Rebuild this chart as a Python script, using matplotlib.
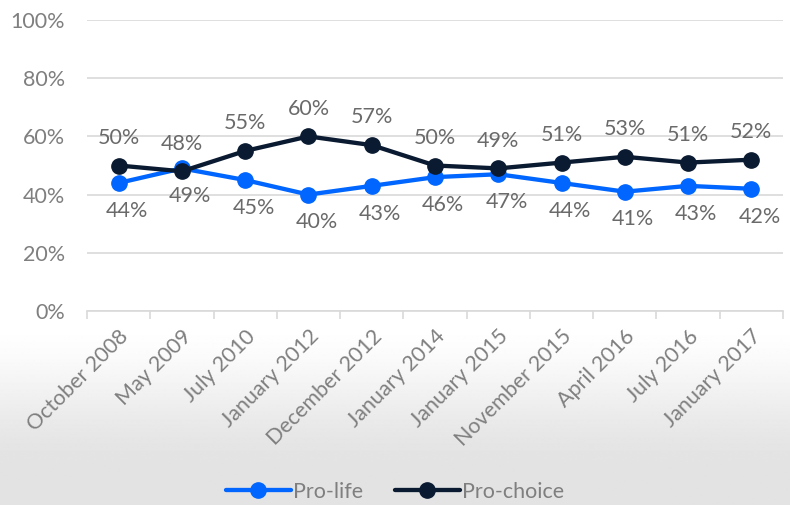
import matplotlib
matplotlib.use("Agg")
import matplotlib.pyplot as plt
import matplotlib.transforms as mtransforms
import numpy as np

categories = ["October 2008", "May 2009", "July 2010", "January 2012", "December 2012",
              "January 2014", "January 2015", "November 2015", "April 2016", "July 2016",
              "January 2017"]
pro_life = [44, 49, 45, 40, 43, 46, 47, 44, 41, 43, 42]
pro_choice = [50, 48, 55, 60, 57, 50, 49, 51, 53, 51, 52]
y_ticks = [0, 20, 40, 60, 80, 100]

plt.rcParams['font.family'] = ['Lato', 'DejaVu Sans']

W, H = 790, 505
fig = plt.figure(figsize=(W / 100, H / 100), dpi=100)

# background gradient
bg = fig.add_axes([0, 0, 1, 1], zorder=-10)
bg.set_axis_off()
rows = np.linspace(0, 1, 512)  # 0 top -> 1 bottom
start = 318 / H
end = 470 / H
t = np.clip((rows - start) / (end - start), 0, 1)
t = t * t * (3 - 2 * t)
vals = 1 - t * (1 - 0.89)
grad = np.repeat(vals[:, None], 2, axis=1)
bg.imshow(grad, cmap='gray', vmin=0, vmax=1, aspect='auto', extent=[0, 1, 0, 1],
          interpolation='bilinear')
bg.set_xlim(0, 1); bg.set_ylim(0, 1)

left, right = 87 / W, 783 / W
bottom, top = 1 - 311 / H, 1 - 20 / H
ax = fig.add_axes([left, bottom, right - left, top - bottom])
ax.patch.set_alpha(0)

n = len(categories)
x = np.arange(n)
blue = "#0066ff"
navy = "#0a1a30"

l1, = ax.plot(x, pro_life, color=blue, lw=3.1, marker='o', ms=11, label="Pro-life", zorder=3,
              solid_capstyle='round')
l2, = ax.plot(x, pro_choice, color=navy, lw=3.1, marker='o', ms=11, label="Pro-choice", zorder=4,
              solid_capstyle='round')

lab_col = "#6a6a6a"
fs = 15.5
for xi, v in zip(x, pro_choice):
    ax.annotate(f"{v}%", (xi, v), xytext=(0, 20), textcoords='offset points',
                ha='center', va='center', fontsize=fs, color=lab_col)
for xi, v in zip(x, pro_life):
    ax.annotate(f"{v}%", (xi, v), xytext=(6, -20), textcoords='offset points',
                ha='center', va='center', fontsize=fs, color=lab_col)

ax.set_xlim(-0.5, n - 0.5)
ax.set_ylim(0, 100)
ax.set_yticks(y_ticks)
ax.set_yticklabels([f"{v}%" for v in y_ticks], fontsize=fs, color="#7f7f7f")
ax.grid(axis='y', color="#d9d9d9", lw=1.2)
ax.set_axisbelow(True)
for s in ['top', 'right', 'left']:
    ax.spines[s].set_visible(False)
ax.spines['bottom'].set_color("#d9d9d9")
ax.spines['bottom'].set_linewidth(1.2)
ax.tick_params(axis='y', length=0, pad=16)

# x ticks at boundaries
ax.set_xticks(np.arange(-0.5, n, 1.0))
ax.set_xticklabels([])
ax.tick_params(axis='x', which='major', length=6, width=1.2, color="#d9d9d9")
ax.set_xticks(x, minor=True)
ax.set_xticklabels(categories, minor=True, rotation=45, ha='right', va='center',
                   rotation_mode='anchor', fontsize=fs, color="#7f7f7f")
ax.tick_params(axis='x', which='minor', length=0, pad=16)
offset = mtransforms.ScaledTranslation(5 / 72, 0, fig.dpi_scale_trans)
for lbl in ax.get_xticklabels(minor=True):
    lbl.set_transform(lbl.get_transform() + offset)

leg = fig.legend(handles=[l1, l2], loc='center', bbox_to_anchor=(0.5, 1 - 492 / H), ncol=2,
                 frameon=False, fontsize=fs, handlelength=3.0, handletextpad=0.1,
                 columnspacing=1.5, labelcolor="#7f7f7f", borderpad=0.2)

fig.savefig("out.png", dpi=100)
